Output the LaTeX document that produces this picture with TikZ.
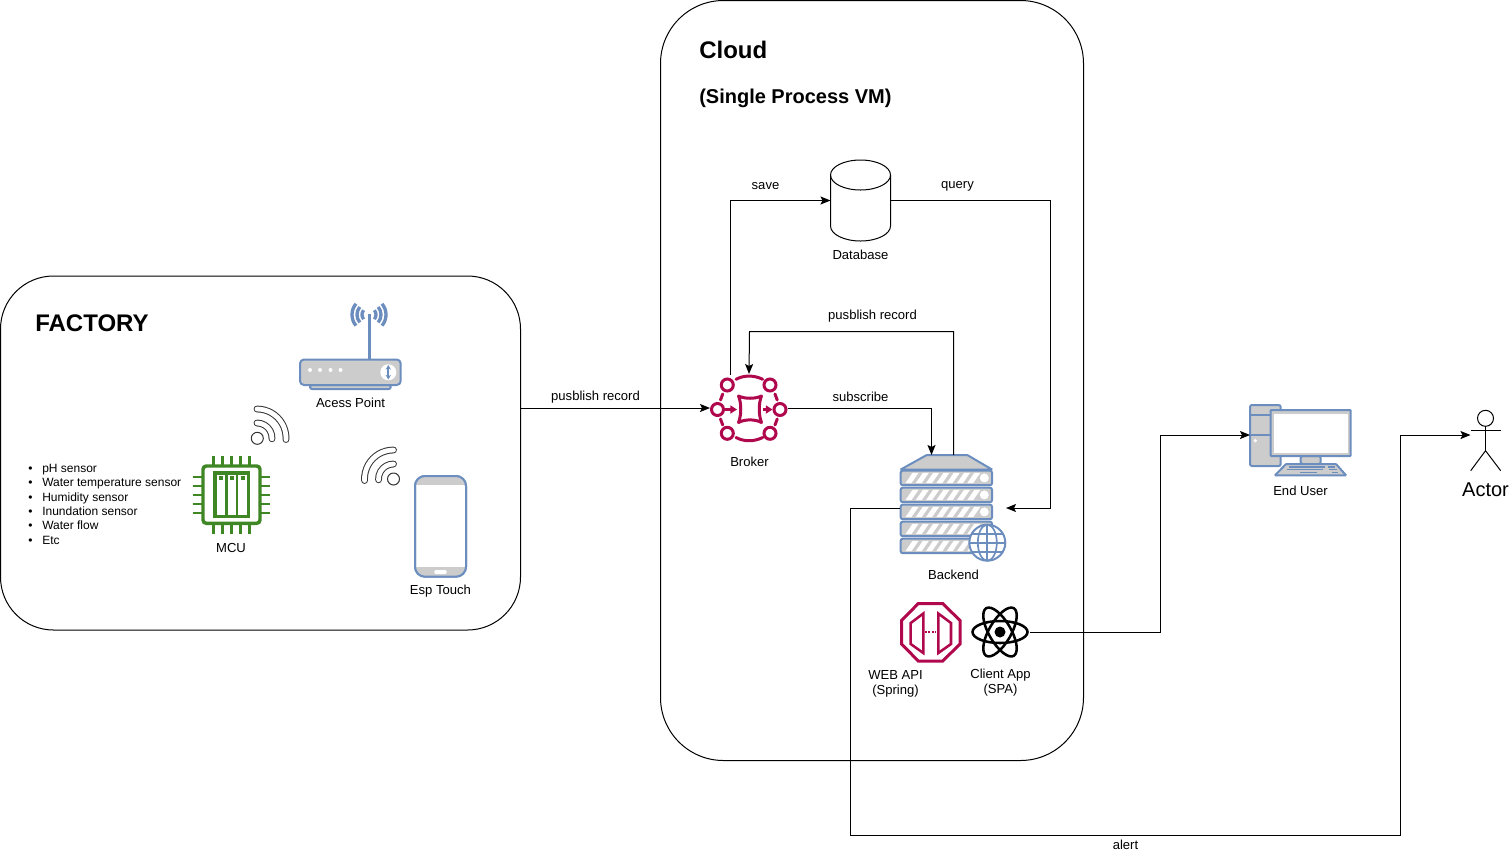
\documentclass[tikz,border=0pt]{standalone}
\usepackage{fontspec}
\setmainfont{Liberation Sans}
\usetikzlibrary{arrows.meta}
\definecolor{iconblue}{HTML}{6C8EBF}
\definecolor{icongray}{HTML}{CCCCCC}
\definecolor{mcrimson}{HTML}{B0084D}
\definecolor{mgreen}{HTML}{3F8624}
\definecolor{mwifi}{HTML}{333333}
\tikzset{iconbox/.style 2 args = {minimum width = #1*.75pt, minimum height = #2*.75pt, inner sep = 0, outer sep = 0}}
\tikzset{lbl/.style = {font = \fontsize{9.8}{11.25}\selectfont, inner sep = 0, align = center}}
\tikzset{zone/.style = {draw, line width = .75pt, rounded corners = #1*.75pt}}
\tikzset{link/.style = {draw, line width = .75pt, ->}}
\tikzset{blueline/.style = {draw = iconblue, fill = icongray, line width = 1.5pt, rounded corners = 1.5pt}}
\tikzset{wifiband/.style = {draw = mwifi, line width = .75pt, double = white, double distance = 3.6pt, line cap = round}}
\tikzset{crim/.style = {draw = mcrimson, line width = 2.25pt}}
\newcommand{\sensoritem}[1]{\makebox[10.5pt][l]{\textbullet}#1}
\begin{document}
\begin{tikzpicture}[x = .75pt, y = .75pt, yscale = -1, >={Stealth[length = 7.5pt, width = 6pt, inset = 1.5pt]}]
    \useasboundingbox (0, 0) rectangle (1509, 861);

    \node (factory) [zone = 53, iconbox = {520}{354}] at (260.5, 453) {};
    \node (cloud) [zone = 63, iconbox = {423}{760}] at (872, 380.5) {};

    \node (factorytitle) [anchor = west, inner sep = 0, font = \fontsize{18}{20}\selectfont\bfseries] at (35, 323) {FACTORY};
    \node (cloudtitle) [anchor = west, inner sep = 0, font = \fontsize{18}{20}\selectfont\bfseries] at (699, 50) {Cloud};
    \node (cloudsub) [anchor = west, inner sep = 0, font = \fontsize{15}{18}\selectfont\bfseries] at (699, 98) {(Single Process VM)};

    \node (sensors) [anchor = west, inner sep = 0, align = left, font = \fontsize{9}{10.8}\selectfont] at (28, 504.3) {\sensoritem{pH sensor}\\\sensoritem{Water temperature sensor}\\\sensoritem{Humidity sensor}\\\sensoritem{Inundation sensor}\\\sensoritem{Water flow}\\\sensoritem{Etc}};

    % access point
    \node (ap) [iconbox = {102}{88}] at (350.5, 345) {};
    \draw [iconblue, line width = 2.25pt] (369, 359) -- (369, 314);
    \foreach \r in {7, 12, 17} {
      \draw [iconblue, line width = 2.5pt] (369, 314.7) ++(-40:\r) arc [start angle = -40, end angle = 40, radius = \r];
      \draw [iconblue, line width = 2.5pt] (369, 314.7) ++(140:\r) arc [start angle = 140, end angle = 220, radius = \r];
    }
    \draw [blueline, fill = icongray] (310, 385) rectangle (390.7, 389);
    \draw [blueline, rounded corners = 3pt] (300, 359.5) rectangle (400.7, 385);
    \foreach \x in {310, 320, 330.5, 340.5}
      \fill [white] (\x, 370) circle [radius = 2];
    \fill [white] (388.3, 372.3) circle [radius = 8];
    \draw [iconblue, line width = 1.25pt, {Stealth[length = 3.5pt, width = 4pt]}-{Stealth[length = 3.5pt, width = 4pt]}] (388.3, 365) -- (388.3, 379.5);
    \node (aplabel) [lbl] at (350.5, 403) {Acess Point};

    % wifi marks
    \draw [wifiband] (257, 423) arc [start angle = -90, end angle = 3, radius = 15];
    \draw [wifiband] (257, 409) arc [start angle = -90, end angle = 3, radius = 29];
    \draw [mwifi, line width = .75pt, fill = white] (257.3, 438.3) circle [radius = 6];
    \draw [wifiband] (393.5, 464) arc [start angle = -90, end angle = -183, radius = 15];
    \draw [wifiband] (393.5, 450) arc [start angle = -90, end angle = -183, radius = 29];
    \draw [mwifi, line width = .75pt, fill = white] (393.5, 479) circle [radius = 6];

    % mcu
    \node (mcu) [iconbox = {78}{78}] at (231.5, 495) {};
    \foreach \d in {-18, -9, 0, 9, 18} {
      \draw [mgreen, line width = 2.1pt] (231.5 + \d, 456) -- (231.5 + \d, 534);
      \draw [mgreen, line width = 2.1pt] (192.7, 495 + \d) -- (270.3, 495 + \d);
    }
    \draw [mgreen, fill = white, line width = 2.6pt, rounded corners = 2.5pt] (203, 466) rectangle (260, 523.3);
    \draw [mgreen, line width = 2.6pt] (215, 473) rectangle (248.3, 516.7);
    \draw [mgreen, line width = 2pt] (226.5, 473) -- (226.5, 516.7) (237, 473) -- (237, 516.7);
    \foreach \x in {220.7, 231.7, 242.5}
      \fill [mgreen] (\x - 2, 476) rectangle (\x + 2, 480);
    \node (mculabel) [lbl] at (231, 548) {MCU};

    % phone
    \node (esp) [iconbox = {51}{101}] at (440.5, 526.3) {};
    \draw [iconblue, fill = white, line width = 1.5pt, rounded corners = 7.5pt] (415, 476) rectangle (466, 576.7);
    \begin{scope}
      \clip [rounded corners = 7.5pt] (415, 476) rectangle (466, 576.7);
      \fill [icongray] (415, 476) rectangle (466, 485);
      \fill [icongray] (415, 567.3) rectangle (466, 576.7);
    \end{scope}
    \draw [iconblue, line width = 1.5pt, rounded corners = 7.5pt] (415, 476) rectangle (466, 576.7);
    \fill [white, rounded corners = 1pt] (434.3, 570) rectangle (446.7, 574);
    \node (esplabel) [lbl] at (440.5, 591.5) {Esp Touch};

    % broker
    \node (broker) [iconbox = {78}{68}] at (749, 408) {};
    \foreach \x / \y in {727.3/385, 770/385, 717.5/409.5, 780/409.5, 727.3/433.3, 770/433.3}
      \draw [crim] (\x, \y) circle [radius = 6];
    \draw [crim, line cap = round] (736, 379.3) .. controls (744, 375) and (754, 375) .. (762.7, 379.3);
    \draw [crim, line cap = round] (736, 437.5) .. controls (744, 441.8) and (754, 441.8) .. (762.7, 437.5);
    \draw [crim, line cap = round] (722.7, 394) -- (720.5, 400) (720.5, 419) -- (722.7, 425);
    \draw [crim, line cap = round] (775, 394) -- (777.2, 400) (777.2, 419) -- (775, 425);
    \draw [crim, line join = round] (738.5, 396) .. controls (745, 399) and (755, 399) .. (761.5, 396) .. controls (758.5, 403) and (758.5, 415) .. (761.5, 422.5) .. controls (755, 419) and (745, 419) .. (738.5, 422.5) .. controls (741.5, 415) and (741.5, 403) .. (738.5, 396) -- cycle;
    \draw [mcrimson, line width = 1.75pt, -{Stealth[length = 5pt, width = 6pt, inset = 0pt]}] (724, 409.5) -- (737, 409.5);
    \draw [mcrimson, line width = 1.75pt, -{Stealth[length = 5pt, width = 6pt, inset = 0pt]}] (763, 409.5) -- (772.5, 409.5);
    \node (brokerlabel) [lbl] at (749.5, 462) {Broker};

    % database
    \node (database) [iconbox = {60}{81}] at (860.5, 200.5) {};
    \draw [line width = .75pt, fill = white] (830.5, 175) arc [start angle = 180, end angle = 360, x radius = 30, y radius = 15] -- (890.5, 226) arc [start angle = 0, end angle = 180, x radius = 30, y radius = 15] -- cycle;
    \draw [line width = .75pt] (830.5, 175) arc [start angle = 180, end angle = 0, x radius = 30, y radius = 15];
    \node (databaselabel) [lbl] at (860.5, 255) {Database};

    % backend
    \node (backend) [iconbox = {106}{106}] at (953, 508) {};
    \draw [blueline, rounded corners = .5pt] (900.7, 469.5) -- (926.7, 455) -- (967.3, 455) -- (992, 469.5) -- cycle;
    \foreach \y in {470.7, 487.7, 504.7, 521.7, 538.7} {
      \draw [blueline] (900.7, \y) rectangle (992, \y + 14.5);
      \foreach \i in {0, ..., 6}
        \fill [white] (905.5 + 10.3 * \i, \y + 12.3) -- (912.5 + 10.3 * \i, \y + 2.2) -- (918.5 + 10.3 * \i, \y + 2.2) -- (911.5 + 10.3 * \i, \y + 12.3) -- cycle;
    }
    \foreach \y in {470.7, 487.7, 504.7}
      \fill [white] (984.3, \y + 7.2) circle [radius = 4.5];
    \draw [iconblue, fill = white, line width = 1.5pt] (987.3, 542.7) circle [radius = 18];
    \draw [iconblue, line width = 1.25pt] (987.3, 524.7) -- (987.3, 560.7) (969.3, 542.7) -- (1005.3, 542.7) (971.7, 533.7) -- (1002.9, 533.7) (971.7, 551.7) -- (1002.9, 551.7);
    \draw [iconblue, line width = 1.25pt] (987.3, 542.7) circle [x radius = 9.5, y radius = 18];
    \node (backendlabel) [lbl] at (953.5, 575) {Backend};

    % web api
    \node (webapi) [iconbox = {60}{60}] at (930.7, 632.2) {};
    \draw [crim, fill = white] (918.3, 603.5) -- (942.7, 603.5) -- (960, 620.5) -- (960, 644) -- (942.7, 661) -- (918.3, 661) -- (901.5, 644) -- (901.5, 620.5) -- cycle;
    \draw [crim, line width = 1.9pt] (923.3, 613.5) -- (910.7, 623 ) -- (910.7, 644) -- (923.3, 653) -- cycle;
    \draw [crim, line width = 1.9pt] (938.3, 613.5) -- (951, 623) -- (951, 644) -- (938.3, 653) -- cycle;
    \draw [mcrimson, line width = 1.5pt, dash pattern = on 1.5pt off 1pt] (925, 632.3) -- (935.5, 632.3);
    \node (webapilabel) [lbl] at (895.5, 683.5) {WEB API\\(Spring)};

    % client app
    \node (client) [iconbox = {60}{54}] at (1000, 632) {};
    \foreach \a in {0, 60, 120}
      \draw [black, line width = 1.9pt, rotate around = {\a:(1000, 632)}] (1000, 632) circle [x radius = 27.5, y radius = 11];
    \fill [black] (1000, 632) circle [radius = 5.5];
    \node (clientlabel) [lbl] at (1000.5, 683) {Client App\\(SPA)};

    % end user
    \node (enduser) [iconbox = {101}{60}] at (1300.5, 435) {};
    \draw [blueline] (1250, 405) rectangle (1280.7, 466);
    \draw [iconblue, line width = 1.5pt] (1250, 415) -- (1272, 415) (1250, 435) -- (1272, 435);
    \fill [white] (1255.3, 440.7) circle [radius = 1.8];
    \draw [blueline, fill = icongray] (1300.7, 456) rectangle (1320.7, 464);
    \draw [blueline, rounded corners = .5pt] (1270.7, 410) rectangle (1350.7, 456);
    \fill [white] (1274, 413.5) rectangle (1347.5, 452.5);
    \draw [blueline, rounded corners = .5pt] (1275, 475.3) -- (1286, 464) -- (1336, 464) -- (1346, 475.3) -- cycle;
    \draw [iconblue, line width = 1pt] (1289.3, 466.9) -- (1325, 466.9) (1327.7, 466.9) -- (1335, 466.9);
    \draw [iconblue, line width = 1pt] (1286.7, 469.8) -- (1322.7, 469.8) (1329.3, 469.8) -- (1336.7, 469.8);
    \draw [iconblue, line width = 1pt] (1300, 472.7) -- (1317.3, 472.7) (1331.7, 472.7) -- (1338.3, 472.7);
    \node (enduserlabel) [lbl] at (1300.5, 491) {End User};

    % actor
    \node (actor) [iconbox = {30}{60}] at (1485.5, 435) {};
    \draw [line width = .75pt, fill = white] (1485.5, 418.3) circle [radius = 8];
    \draw [line width = .75pt] (1485.5, 426.3) -- (1485.5, 450.7) (1470.7, 430.3) -- (1500.7, 430.3);
    \draw [line width = .75pt] (1470.7, 470.7) -- (1485.5, 450.7) -- (1500.7, 470.7);
    \node (actorlabel) [inner sep = 0, font = \fontsize{15}{18}\selectfont] at (1485.5, 489.5) {Actor};

    % connectors
    \coordinate (brokersave) at (730.5, 375);
    \coordinate (backendin) at (931.5, 455);
    \coordinate (backendout) at (953.5, 455);
    \coordinate (backendside) at (900, 508.5);

    \draw [link] (factory.east |- broker.west) -- (broker.west);
    \draw [link] (brokersave) |- (database.west);
    \draw [link] (database.east) -- (1050.5, 200.5) |- (backend.east);
    \draw [link] (backendout) |- (749.5, 331.5) -- (broker.north);
    \draw [link] (broker.east) -| (backendin);
    \draw [link] (client.east) -- (1160.5, 632) |- (enduser.west);
    \draw [link] (backendside) -- (850.5, 508.5) |- (1400.5, 835.5) |- (actor.west);

    \node (publishout) [lbl] at (595.5, 397) {pusblish record};
    \node (savelabel) [lbl] at (765.5, 186) {save};
    \node (querylabel) [lbl] at (957.5, 186.5) {query};
    \node (publishback) [lbl] at (872.5, 316) {pusblish record};
    \node (subscribelabel) [lbl] at (860.5, 396.5) {subscribe};
    \node (alertlabel) [lbl] at (1125.5, 845) {alert};
  \end{tikzpicture}
\end{document}
